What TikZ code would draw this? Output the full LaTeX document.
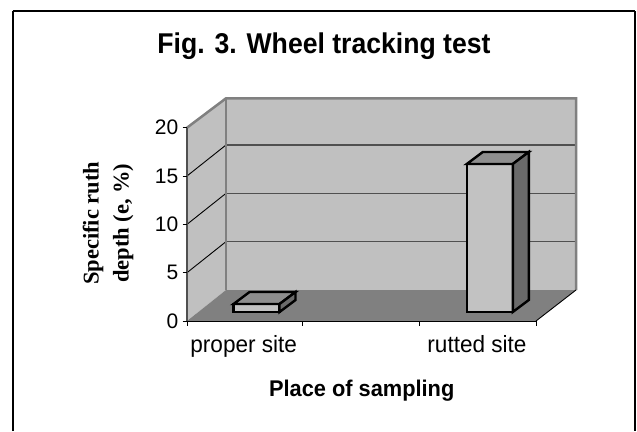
\documentclass[tikz,border=0pt]{standalone}
\usepackage{fontspec}
\setmainfont{Liberation Sans}
\newfontfamily\timesfont{Liberation Serif}
\definecolor{wallgray}{HTML}{C0C0C0}
\definecolor{floorgray}{HTML}{808080}
\definecolor{edgegray}{HTML}{808080}
\definecolor{gridgray}{HTML}{505050}
\definecolor{barfront}{HTML}{C2C2C2}
\definecolor{bartop}{HTML}{8E8E8E}
\definecolor{barside}{HTML}{6A6A6A}
\tikzset{
  walledge/.style={draw=edgegray, line width=2.5pt, line join=miter},
  gridline/.style={draw=gridgray, line width=1.6pt},
  diagline/.style={draw=black, line width=0.9pt},
  axisline/.style={draw=black, line width=1pt},
  barface/.style={draw=black, line width=2.4pt, line join=miter},
  ticklabel/.style={font=\fontsize{21}{24}\selectfont, inner sep=0pt, anchor=base east},
  catlabel/.style={font=\fontsize{23.5}{26}\selectfont, inner sep=0pt, anchor=base, xscale=0.96},
}
\begin{document}
\begin{tikzpicture}[x=1pt,y=-1pt]
\useasboundingbox (0,0) rectangle (637,431);
% outer frame
\draw[line width=2pt] (12.7,431) -- (12.7,11);
\draw[line width=1.2pt] (12.7,11) -- (635,11);
\draw[line width=2pt] (635,11) -- (635,431);
% title
\node[font=\bfseries\fontsize{28.6}{32}\selectfont, inner sep=0pt, anchor=base, xscale=0.93] (title) at (324,53.3) {Fig. 3. Wheel tracking test};
% walls and floor
\fill[wallgray] (226,98.3) rectangle (576,290);
\fill[wallgray] (187,127.7) -- (226,98.3) -- (226,290) -- (187,321) -- cycle;
\fill[floorgray] (187,321) -- (226,290) -- (576,290) -- (536,321) -- cycle;
% gridlines
\foreach \v in {5,10,15} {
  \draw[gridline] (226,{290-9.6667*\v}) -- (576,{290-9.6667*\v});
  \draw[diagline] (187,{321-9.6667*\v}) -- (226,{290-9.6667*\v});
}
% wall edges
\draw[walledge] (187,127.7) -- (226,98.3) -- (576,98.3) -- (576,290);
\draw[walledge] (226,98.3) -- (226,290);
\draw[diagline] (536,321) -- (576,290);
% axes
\draw[draw=gridgray, line width=1.6pt] (187,127.7) -- (187,321);
\draw[axisline] (187,321) -- (536,321);
\foreach \v in {0,5,10,15,20} {
  \draw[axisline] (182.5,{321-9.6667*\v}) -- (187,{321-9.6667*\v});
}
\foreach \x in {187,302.6,419.3,536} {
  \draw[axisline] (\x,321) -- (\x,325.5);
}
% tick labels
\node[ticklabel] (t0)  at (178.5,{321+7.3}) {0};
\node[ticklabel] (t5)  at (178.5,{321-48.33+7.3}) {5};
\node[ticklabel] (t10) at (178.5,{321-96.67+7.3}) {10};
\node[ticklabel] (t15) at (178.5,{321-145+7.3}) {15};
\node[ticklabel] (t20) at (178.5,{321-193.33+7.3}) {20};
% proper site bar
\def\xl{233.5}\def\xr{279.5}\def\yt{304}
\filldraw[barface, fill=barfront] (\xl,312) rectangle (\xr,\yt);
\filldraw[barface, fill=bartop] (\xl,\yt) -- ({\xl+16},{\yt-12}) -- ({\xr+16},{\yt-12}) -- (\xr,\yt) -- cycle;
\filldraw[barface, fill=barside] (\xr,\yt) -- ({\xr+16},{\yt-12}) -- ({\xr+16},300) -- (\xr,312) -- cycle;
% rutted site bar
\def\xl{466.8}\def\xr{512.8}\def\yt{164}
\filldraw[barface, fill=barfront] (\xl,312) rectangle (\xr,\yt);
\filldraw[barface, fill=bartop] (\xl,\yt) -- ({\xl+16},{\yt-12}) -- ({\xr+16},{\yt-12}) -- (\xr,\yt) -- cycle;
\filldraw[barface, fill=barside] (\xr,\yt) -- ({\xr+16},{\yt-12}) -- ({\xr+16},300) -- (\xr,312) -- cycle;
% category labels
\node[catlabel] (proper) at (243.7,352.3) {proper site};
\node[catlabel] (rutted) at (477,352.3) {rutted site};
\node[catlabel, font=\bfseries\fontsize{22.7}{26}\selectfont, xscale=1] (xtitle) at (361.7,396) {Place of sampling};
% y-axis title
\node[rotate=90, align=center, inner sep=0pt, font=\timesfont\bfseries\fontsize{22.5}{30}\selectfont] (ytitle) at (108,223.3) {Specific ruth\\depth (e, \%)};
\end{tikzpicture}
\end{document}
